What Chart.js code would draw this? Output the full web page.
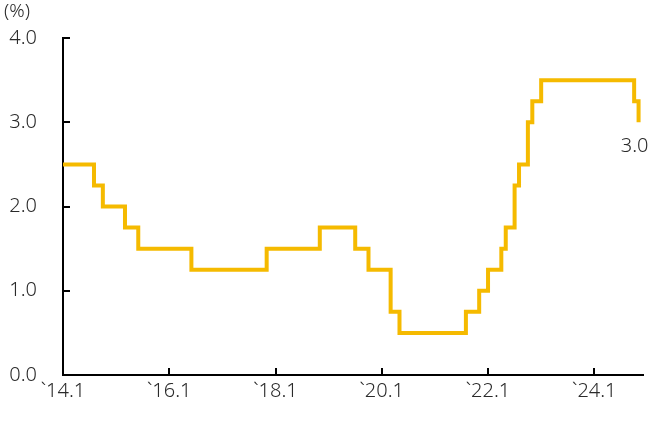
<!DOCTYPE html>
<html lang="ko">
<head>
<meta charset="UTF-8" />
<title>Base rate</title>
<script src="https://cdn.jsdelivr.net/npm/chart.js@4"></script>
<style>
	html, body { margin: 0; padding: 0; background: #fff; }
	.wrap { position: relative; width: 659px; height: 421px; }
</style>
</head>
<body>
<div class="wrap"><canvas id="rateChart" width="659" height="421"></canvas></div>
<script>
// policy rate change dates (year.month) and the rate that starts on each
const changeDates = ['2014.1', '2014.8', '2014.10', '2015.3', '2015.6', '2016.6', '2017.11', '2018.11',
	'2019.7', '2019.10', '2020.3', '2020.5', '2021.8', '2021.11', '2022.1', '2022.4', '2022.5',
	'2022.7', '2022.8', '2022.10', '2022.11', '2023.1', '2024.10', '2024.11'];
const rateValues = [2.50, 2.25, 2.00, 1.75, 1.50, 1.25, 1.50, 1.75,
	1.50, 1.25, 0.75, 0.50, 0.75, 1.00, 1.25, 1.50, 1.75,
	2.25, 2.50, 3.00, 3.25, 3.50, 3.25, 3.00];
const xTickDates = ['2014.1', '2016.1', '2018.1', '2020.1', '2022.1', '2024.1'];
const xTickLabels = ['`14.1', '`16.1', '`18.1', '`20.1', '`22.1', '`24.1'];
const yTicks = [0, 1, 2, 3, 4];

const FONT = '"Noto Sans", "DejaVu Sans", sans-serif';
const TEXT_COLOR = '#2a2a2a';

const monthIndex = (text) => {
	const [year, month] = text.split('.').map(Number);
	return (year - 2014) * 12 + (month - 1);
};

const points = changeDates.map((d, i) => ({ x: monthIndex(d), y: rateValues[i] }));
const xTickValues = xTickDates.map(monthIndex);

const innerTicks = {
	id: 'innerTicks',
	afterDraw(chart) {
		const { ctx, scales: { x, y } } = chart;
		ctx.save();
		ctx.strokeStyle = '#000';
		ctx.lineWidth = 2;
		ctx.beginPath();
		y.ticks.forEach((t) => {
			if (t.value === 0) return;
			const py = Math.round(y.getPixelForValue(t.value));
			ctx.moveTo(x.left, py);
			ctx.lineTo(x.left + 7, py);
		});
		x.ticks.forEach((t) => {
			if (t.value === 0) return;
			const px = Math.round(x.getPixelForValue(t.value));
			ctx.moveTo(px, y.bottom);
			ctx.lineTo(px, y.bottom - 7);
		});
		ctx.stroke();

		// unit label and end value label
		ctx.fillStyle = TEXT_COLOR;
		ctx.font = '300 19px ' + FONT;
		ctx.textAlign = 'left';
		ctx.textBaseline = 'middle';
		ctx.fillText('(%)', 4, 12);

		const last = points[points.length - 1];
		ctx.textAlign = 'center';
		ctx.font = '300 20px ' + FONT;
		ctx.fillText(last.y.toFixed(1), x.getPixelForValue(last.x) - 4, y.getPixelForValue(last.y) + 24);
		ctx.restore();
	},
};

new Chart(document.getElementById('rateChart'), {
	type: 'line',
	data: {
		datasets: [{
			data: points,
			stepped: 'before',
			borderColor: '#F5BA00',
			borderWidth: 4,
			pointRadius: 0,
			fill: false,
		}],
	},
	options: {
		responsive: false,
		animation: false,
		layout: { padding: { top: 37, right: 16, left: 0, bottom: 0 } },
		plugins: { legend: { display: false }, tooltip: { enabled: false } },
		scales: {
			x: {
				type: 'linear',
				min: 0,
				max: 131,
				afterBuildTicks: (scale) => { scale.ticks = xTickValues.map((v) => ({ value: v })); },
				afterFit: (scale) => { scale.height = 46; },
				grid: { drawOnChartArea: false, drawTicks: false },
				border: { display: true, color: '#000', width: 2 },
				ticks: {
					padding: 4,
					maxRotation: 0,
					autoSkip: false,
					color: TEXT_COLOR,
					font: { family: FONT, size: 20, weight: '300' },
					callback: (v) => xTickLabels[xTickValues.indexOf(v)] ?? '',
				},
			},
			y: {
				min: 0,
				max: 4,
				afterBuildTicks: (scale) => { scale.ticks = yTicks.map((v) => ({ value: v })); },
				afterFit: (scale) => { scale.width = 63; },
				grid: { drawOnChartArea: false, drawTicks: false },
				border: { display: true, color: '#000', width: 2 },
				ticks: {
					padding: 26,
					color: TEXT_COLOR,
					font: { family: FONT, size: 20, weight: '300' },
					callback: (v) => Number(v).toFixed(1),
				},
			},
		},
	},
	plugins: [innerTicks],
});
</script>
</body>
</html>
